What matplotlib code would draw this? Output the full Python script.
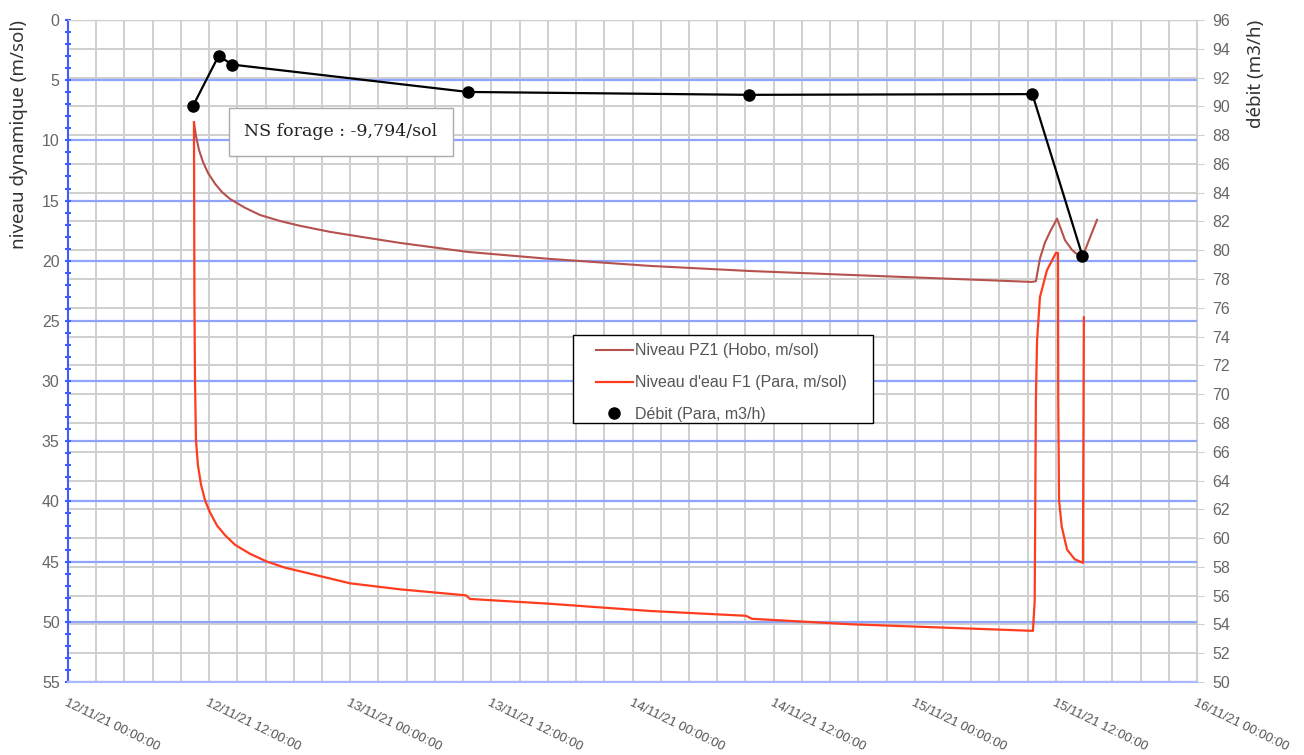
import matplotlib
matplotlib.use("Agg")
import matplotlib.pyplot as plt
import matplotlib.dates as mdates
from matplotlib.ticker import MultipleLocator
from matplotlib.patches import Rectangle
import pandas as pd

# time origin of the chart
start = pd.Timestamp("2021-11-12 00:00:00")

# Niveau PZ1 (Hobo) - hours since start / m sous sol
pz1_hours = [10.71, 10.88, 11.14, 11.48, 11.9, 12.5, 13.1, 13.78, 15.05, 16.33,
             18.03, 19.73, 22.28, 24.83, 28.23, 34.01, 40.98, 49.49, 57.9, 66.5,
             75.0, 81.97, 82.3, 82.65, 83.07, 83.5, 84.1, 84.78, 85.37, 86.22,
             86.73, 87.5]
pz1_level = [8.5, 9.63, 10.8, 11.8, 12.7, 13.6, 14.3, 14.87, 15.6, 16.2,
             16.7, 17.1, 17.6, 18.0, 18.52, 19.27, 19.85, 20.43, 20.85, 21.18,
             21.5, 21.76, 21.7, 19.8, 18.5, 17.6, 16.5, 18.3, 19.1, 19.8,
             18.5, 16.6]

# Niveau d'eau F1 (Para)
f1_hours = [10.71, 10.75, 10.80, 10.88, 11.05, 11.31, 11.65, 12.07, 12.67, 13.35,
            14.2, 15.48, 16.92, 18.45, 19.73, 21.85, 23.98, 28.23, 33.84, 34.18,
            40.98, 49.49, 57.65, 58.16, 66.5, 75.0, 82.05, 82.2, 82.3, 82.4,
            82.65, 83.24, 84.0, 84.18, 84.2, 84.27, 84.5, 84.95, 85.6, 86.3,
            86.38]
f1_level = [8.5, 23.3, 29.9, 34.9, 37.0, 38.6, 39.9, 40.9, 42.0, 42.8,
            43.6, 44.35, 45.0, 45.5, 45.8, 46.3, 46.8, 47.3, 47.8, 48.1,
            48.5, 49.1, 49.5, 49.75, 50.2, 50.5, 50.75, 48.2, 31.6, 26.6,
            23.0, 20.8, 19.35, 19.35, 31.6, 39.9, 42.1, 44.0, 44.8, 45.1,
            24.7]

# Débit (Para) m3/h
debit_hours = [10.64, 12.8, 13.98, 34.0, 57.9, 82.0, 86.26]
debit_value = [90.05, 93.5, 92.9, 91.0, 90.8, 90.85, 79.6]


def to_dates(hours):
    return start + pd.to_timedelta(hours, unit="h")


fig = plt.figure(figsize=(13.04, 7.55), dpi=100)
rect = [68 / 1304, 1 - 682 / 755, 1129 / 1304, 662 / 755]
ax = fig.add_axes(rect)
ax2 = ax.twinx()
ax3 = ax.twinx()

ax2.set_zorder(0)
ax.set_zorder(1)
ax3.set_zorder(2)
ax.patch.set_visible(False)
ax3.patch.set_visible(False)

grid_gray = "#cfcfcf"
grid_blue = "#8ea4ff"
brown = "#b5524e"
red = "#ff3c1e"

# left axis: levels
ax.plot(to_dates(pz1_hours), pz1_level, color=brown, lw=1.5,
        label="Niveau PZ1 (Hobo, m/sol)")
ax.plot(to_dates(f1_hours), f1_level, color=red, lw=1.6,
        label="Niveau d'eau F1 (Para, m/sol)")
ax.set_ylim(55, 0)
ax.yaxis.set_major_locator(MultipleLocator(5))
ax.yaxis.set_minor_locator(MultipleLocator(1))
ax.set_xlim(start, start + pd.Timedelta(days=4))
ax.xaxis.set_major_locator(MultipleLocator(0.5))
ax.xaxis.set_minor_locator(MultipleLocator(0.1))
ax.xaxis.set_major_formatter(mdates.DateFormatter("%d/%m/%y %H:%M:%S"))
ax.grid(axis="x", which="both", color=grid_gray, lw=1.4)
ax.grid(axis="y", which="major", color=grid_blue, lw=1.6)
ax.tick_params(axis="x", which="both", length=0, pad=11, labelsize=9.4,
               labelcolor="#555555")
for lab in ax.get_xticklabels():
    lab.set_rotation(-26)
    lab.set_ha("left")
    lab.set_va("top")
    lab.set_rotation_mode("anchor")
    lab.set_family("Liberation Sans")
ax.tick_params(axis="y", which="major", length=5, width=1.5, color="#3f5cff",
               direction="inout", labelsize=11.5, labelcolor="#666666")
ax.tick_params(axis="y", which="minor", length=4, width=1.5, color="#3f5cff",
               direction="inout")
for lab in ax.get_yticklabels():
    lab.set_family("Liberation Sans")
ax.set_ylabel("niveau dynamique (m/sol)", loc="top", fontsize=13.5,
              family="Noto Sans", color="#333333", labelpad=10)
ax.spines["left"].set_color("#3f5cff")
ax.spines["left"].set_linewidth(1.5)
ax.spines["bottom"].set_color("#a9b8ff")
ax.spines["bottom"].set_linewidth(1.5)
ax.spines["top"].set_color(grid_gray)
ax.spines["right"].set_visible(False)

# right axis: grid + ticks for débit
ax2.set_ylim(50, 96)
ax2.yaxis.set_major_locator(MultipleLocator(2))
ax2.grid(axis="y", color=grid_gray, lw=1.4)
ax2.tick_params(axis="y", length=5, color=grid_gray, labelsize=11.5,
                labelcolor="#666666", pad=6)
for lab in ax2.get_yticklabels():
    lab.set_family("Liberation Sans")
ax2.set_ylabel("débit (m3/h)", loc="top", fontsize=13.5, family="Noto Sans",
               color="#333333", labelpad=12)
for side in ["left", "top", "bottom"]:
    ax2.spines[side].set_visible(False)
ax2.spines["right"].set_color(grid_gray)

# débit on top
ax3.set_ylim(50, 96)
ax3.plot(to_dates(debit_hours), debit_value, color="black", lw=1.6)
ax3.plot(to_dates(debit_hours), debit_value, "o", color="black", ms=8,
         label="Débit (Para, m3/h)")
ax3.yaxis.set_visible(False)
for side in ax3.spines:
    ax3.spines[side].set_visible(False)

ax3.text(0.2418, 0.831, "NS forage : -9,794/sol", transform=ax3.transAxes,
         ha="center", va="center", fontsize=12.5, family="DejaVu Serif",
         color="#222222",
         bbox=dict(boxstyle="square,pad=0.9", fc="white", ec="#aaaaaa", lw=1))

# legend: frame drawn separately to match the box of the original
ax3.add_patch(Rectangle((0.4473, 0.3912), 0.2657, 0.1329,
                        transform=ax3.transAxes, fc="white", ec="black",
                        lw=1.0, zorder=5))
h1, l1 = ax.get_legend_handles_labels()
h3, l3 = ax3.get_legend_handles_labels()
leg = ax3.legend(h1 + h3, l1 + l3, loc="upper left",
                 bbox_to_anchor=(0.4677, 0.5115), borderaxespad=0,
                 frameon=False, handlelength=2.3,
                 labelspacing=1.05, borderpad=0, handletextpad=0.15,
                 prop={"family": "Liberation Sans", "size": 11.5})
leg.set_zorder(6)
for t in leg.get_texts():
    t.set_color("#555555")

fig.savefig("out.png", dpi=100, facecolor="white")
